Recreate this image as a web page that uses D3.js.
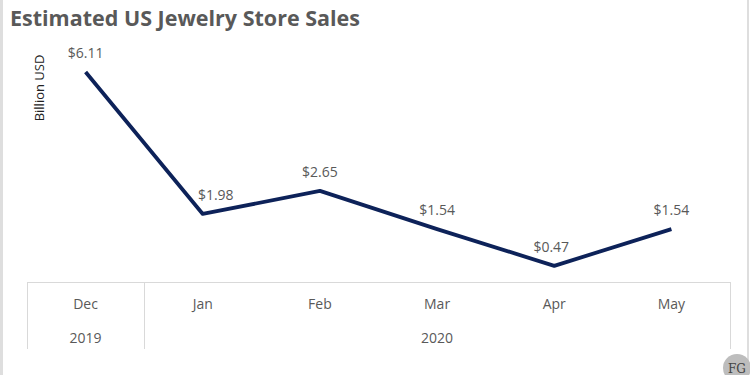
<!DOCTYPE html>
<html>
<head>
<meta charset="utf-8">
<script src="https://cdn.jsdelivr.net/npm/d3@7"></script>
<style>
  body { margin: 0; background: #fff; }
  svg { display: block; font-family: 'Open Sans', sans-serif; }
</style>
</head>
<body>
<div id="container"></div>
<script>
const w = 750,
  h = 375;

const months = ['Dec', 'Jan', 'Feb', 'Mar', 'Apr', 'May'];
const years = ['2019', '2020', '2020', '2020', '2020', '2020'];
const sales = [6.11, 1.98, 2.65, 1.54, 0.47, 1.54];
const labelShift = [0, 13, 0, 0, -3, 0];

const svg = d3.select('#container').append('svg').attr('width', w).attr('height', h);

// side borders
svg.append('line').attr('x1', 1.5).attr('x2', 1.5).attr('y1', 0).attr('y2', h)
  .attr('stroke', '#dedede').attr('stroke-width', 3);
svg.append('line').attr('x1', 748).attr('x2', 748).attr('y1', 0).attr('y2', h)
  .attr('stroke', '#dedede').attr('stroke-width', 2);

svg.append('text')
  .text('Estimated US Jewelry Store Sales')
  .attr('x', 10)
  .attr('y', 26)
  .attr('font-size', 21.5)
  .attr('font-weight', 'bold')
  .attr('fill', '#595959');

svg.append('text')
  .text('Billion USD')
  .attr('transform', 'translate(44, 88) rotate(-90)')
  .attr('text-anchor', 'middle')
  .attr('font-size', 13)
  .attr('fill', '#222');

const xScale = d3.scaleBand().domain(months).range([27, 730]);
const yScale = d3.scaleLinear().domain([0, 6.11]).range([282, 72]);

// category axis box
const axis = svg.append('g').attr('stroke', '#d9d9d9').attr('stroke-width', 1);
axis.append('line').attr('x1', 27).attr('x2', 730).attr('y1', 282.5).attr('y2', 282.5);
const edges = [xScale('Dec'), xScale('Jan'), xScale('May') + xScale.bandwidth()];
axis.selectAll('.edge')
  .data(edges)
  .enter()
  .append('line')
  .attr('x1', (d) => Math.round(d) + 0.5)
  .attr('x2', (d) => Math.round(d) + 0.5)
  .attr('y1', 282)
  .attr('y2', 349);

svg.selectAll('.month')
  .data(months)
  .enter()
  .append('text')
  .attr('x', (d) => xScale(d) + xScale.bandwidth() / 2)
  .attr('y', 309)
  .attr('text-anchor', 'middle')
  .attr('font-size', 14)
  .attr('fill', '#595959')
  .text((d) => d);

const yearGroups = d3.groups(months.map((m, i) => ({ m, y: years[i] })), (d) => d.y);
svg.selectAll('.year')
  .data(yearGroups)
  .enter()
  .append('text')
  .attr('x', (d) => {
    const first = xScale(d[1][0].m);
    const last = xScale(d[1][d[1].length - 1].m) + xScale.bandwidth();
    return (first + last) / 2;
  })
  .attr('y', 343)
  .attr('text-anchor', 'middle')
  .attr('font-size', 14)
  .attr('fill', '#595959')
  .text((d) => d[0]);

const line = d3.line()
  .x((d, i) => xScale(months[i]) + xScale.bandwidth() / 2)
  .y((d) => yScale(d));

svg.append('path')
  .datum(sales)
  .attr('d', line)
  .attr('fill', 'none')
  .attr('stroke', '#0d2259')
  .attr('stroke-width', 3.8)
  .attr('stroke-linejoin', 'round');

svg.selectAll('.label')
  .data(sales)
  .enter()
  .append('text')
  .attr('x', (d, i) => xScale(months[i]) + xScale.bandwidth() / 2 + labelShift[i])
  .attr('y', (d) => yScale(d) - 14)
  .attr('text-anchor', 'middle')
  .attr('font-size', 14)
  .attr('fill', '#595959')
  .text((d) => '$' + d.toFixed(2));

// logo
svg.append('circle').attr('cx', 737).attr('cy', 368).attr('r', 14).attr('fill', '#bdbdbd');
svg.append('text')
  .text('FG')
  .attr('x', 737)
  .attr('y', 373)
  .attr('text-anchor', 'middle')
  .attr('font-family', 'DejaVu Serif, serif')
  .attr('font-size', 12)
  .attr('fill', '#444');
</script>
</body>
</html>
